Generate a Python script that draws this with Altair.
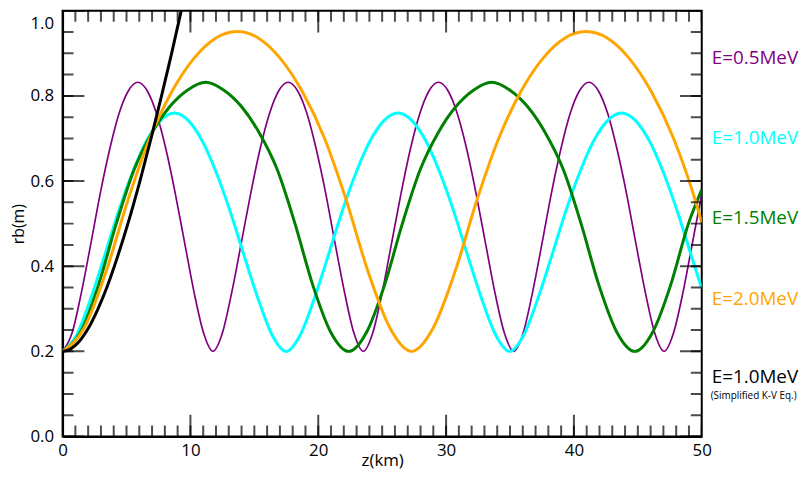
import altair as alt
import pandas as pd

# ---------------- data (z in km, rb in m) ----------------
PURPLE_Z = [0, 0.74, 1.47, 2.21, 2.94, 3.68, 4.41, 5.15, 5.88, 6.62, 7.35, 8.09, 8.82, 9.56, 10.29, 11.03,
            11.76, 12.50, 13.23, 13.97, 14.71, 15.44, 16.18, 16.91, 17.65, 18.38, 19.12, 19.85, 20.59, 21.32, 22.06, 22.79,
            23.53, 24.26, 25.00, 25.73, 26.47, 27.20, 27.94, 28.67, 29.41, 30.15, 30.88, 31.62, 32.35, 33.09, 33.82, 34.56,
            35.29, 36.03, 36.76, 37.50, 38.23, 38.97, 39.70, 40.44, 41.17, 41.91, 42.65, 43.38, 44.12, 44.85, 45.59, 46.32,
            47.06, 47.79, 48.53, 49.26, 50.0]
PURPLE_R = [0.2, 0.243, 0.338, 0.453, 0.570, 0.674, 0.758, 0.812, 0.832, 0.812, 0.758, 0.674, 0.570, 0.453, 0.338, 0.243,
            0.2, 0.243, 0.338, 0.453, 0.570, 0.674, 0.758, 0.812, 0.832, 0.812, 0.758, 0.674, 0.570, 0.453, 0.338, 0.243,
            0.2, 0.243, 0.338, 0.453, 0.570, 0.674, 0.758, 0.812, 0.832, 0.812, 0.758, 0.674, 0.570, 0.453, 0.338, 0.243,
            0.2, 0.243, 0.338, 0.453, 0.570, 0.674, 0.758, 0.812, 0.832, 0.812, 0.758, 0.674, 0.570, 0.453, 0.338, 0.243,
            0.2, 0.243, 0.338, 0.453, 0.570]

CYAN_Z = [0, 1.09, 2.19, 3.28, 4.37, 5.47, 6.56, 7.65, 8.745, 9.84, 10.93, 12.02, 13.12, 14.21, 15.30, 16.40,
          17.49, 18.58, 19.68, 20.77, 21.86, 22.96, 24.05, 25.14, 26.24, 27.33, 28.42, 29.51, 30.61, 31.70, 32.79, 33.89,
          34.98, 36.07, 37.17, 38.26, 39.35, 40.45, 41.54, 42.63, 43.73, 44.82, 45.91, 47.00, 48.10, 49.19, 50.0]
CYAN_R = [0.2, 0.238, 0.323, 0.424, 0.528, 0.620, 0.694, 0.742, 0.760, 0.742, 0.694, 0.620, 0.528, 0.424, 0.323, 0.238,
          0.2, 0.238, 0.323, 0.424, 0.528, 0.620, 0.694, 0.742, 0.760, 0.742, 0.694, 0.620, 0.528, 0.424, 0.323, 0.238,
          0.2, 0.238, 0.323, 0.424, 0.528, 0.620, 0.694, 0.742, 0.760, 0.742, 0.694, 0.620, 0.528, 0.424, 0.348]

GREEN_Z = [0, 1.40, 2.80, 4.20, 5.60, 6.99, 8.39, 9.79, 11.19, 12.59, 13.99, 15.39, 16.79, 18.18, 19.58, 20.98,
           22.38, 23.78, 25.18, 26.58, 27.98, 29.37, 30.77, 32.17, 33.57, 34.97, 36.37, 37.77, 39.17, 40.56, 41.96, 43.36,
           44.76, 46.16, 47.56, 48.96, 50.0]
GREEN_R = [0.2, 0.245, 0.355, 0.500, 0.627, 0.713, 0.775, 0.814, 0.832, 0.814, 0.775, 0.713, 0.627, 0.500, 0.355, 0.245,
           0.2, 0.245, 0.355, 0.500, 0.627, 0.713, 0.775, 0.814, 0.832, 0.814, 0.775, 0.713, 0.627, 0.500, 0.355, 0.245,
           0.2, 0.245, 0.355, 0.500, 0.58]

ORANGE_Z = [0, 1.71, 3.41, 5.12, 6.83, 8.53, 10.24, 11.94, 13.65, 15.36, 17.06, 18.77, 20.48, 22.18, 23.89, 25.59,
            27.30, 29.01, 30.71, 32.42, 34.13, 35.83, 37.54, 39.24, 40.95, 42.66, 44.36, 46.07, 47.78, 49.48, 50.0]
ORANGE_R = [0.2, 0.256, 0.388, 0.556, 0.701, 0.809, 0.887, 0.935, 0.951, 0.935, 0.887, 0.809, 0.701, 0.556, 0.388, 0.256,
            0.2, 0.256, 0.388, 0.556, 0.701, 0.809, 0.887, 0.935, 0.951, 0.935, 0.887, 0.809, 0.701, 0.556, 0.503]

BLACK_Z = [0, 0.5, 1.0, 1.48, 1.93, 2.77, 3.46, 4.05, 5.11, 6.05, 6.92, 7.74, 8.53, 9.28, 10.02]
BLACK_R = [0.2, 0.2035, 0.214, 0.23, 0.25, 0.3, 0.35, 0.4, 0.5, 0.6, 0.7, 0.8, 0.9, 1.0, 1.1]

LEGEND_TEXT = ["E=0.5MeV", "E=1.0MeV", "E=1.5MeV", "E=2.0MeV", "E=1.0MeV"]
LEGEND_COLOR = ["#800080", "#00FFFF", "#008000", "#FFA500", "#000000"]
LEGEND_Y = [0.889, 0.700, 0.514, 0.324, 0.140]
NOTE_TEXT = ["(Simplified K-V Eq.)"]
NOTE_Y = [0.094]

X_MAJOR = [0, 10, 20, 30, 40, 50]
X_MINOR = [0, 1, 2, 3, 4, 5, 6, 7, 8, 9, 10, 11, 12, 13, 14, 15, 16, 17, 18, 19, 20, 21, 22, 23, 24, 25,
           26, 27, 28, 29, 30, 31, 32, 33, 34, 35, 36, 37, 38, 39, 40, 41, 42, 43, 44, 45, 46, 47, 48, 49, 50]
Y_MAJOR = [0.0, 0.2, 0.4, 0.6, 0.8, 1.0]
Y_MINOR = [0.0, 0.05, 0.1, 0.15, 0.2, 0.25, 0.3, 0.35, 0.4, 0.45, 0.5, 0.55, 0.6, 0.65, 0.7, 0.75,
           0.8, 0.85, 0.9, 0.95, 1.0]

# ---------------- chart ----------------
W, H = 644, 429
FONT = "Open Sans"
X_SCALE = alt.Scale(domain=[0, 50], nice=False, zero=False)
Y_SCALE = alt.Scale(domain=[0, 1], nice=False, zero=False)

x_main = alt.Axis(orient="bottom", values=X_MAJOR, ticks=False, tickSize=0, format="d",
                  labelFont=FONT, labelFontSize=17, labelColor="black", labelPadding=6,
                  labelFlush=False, labelOverlap=False,
                  domain=True, domainColor="black", domainWidth=2, grid=False,
                  title="z(km)", titleFont=FONT, titleFontSize=17, titleFontWeight="normal",
                  titleColor="black", titlePadding=-6)
y_main = alt.Axis(orient="left", values=Y_MAJOR, ticks=False, tickSize=0, format=".1f",
                  labelFont=FONT, labelFontSize=17, labelColor="black", labelPadding=9,
                  labelFlush=False, labelOverlap=False,
                  labelOffset={"condition": {"test": "datum.value >= 1", "value": 13}, "value": 0},
                  domain=True, domainColor="black", domainWidth=2, grid=False,
                  title="rb(m)", titleFont=FONT, titleFontSize=16, titleFontWeight="normal",
                  titleColor="black", titlePadding=3)


def line(z, r, color, width, first=False):
    df = pd.DataFrame({"z": z, "r": r})
    return alt.Chart(df).mark_line(color=color, strokeWidth=width, interpolate="monotone",
                                   clip=True).encode(
        x=alt.X("z:Q", scale=X_SCALE, axis=x_main if first else None),
        y=alt.Y("r:Q", scale=Y_SCALE, axis=y_main if first else None),
    )


def x_ticks(values, edge, length):
    # inward ticks on the bottom (edge=0) or top (edge=1) frame; the outer half is clipped away
    df = pd.DataFrame({"t": values})
    return alt.Chart(df).mark_tick(orient="vertical", size=2 * length, thickness=2,
                                   color="black", clip=True).encode(
        x=alt.X("t:Q", scale=X_SCALE, axis=None),
        y=alt.YDatum(edge, type="quantitative", scale=Y_SCALE, axis=None),
    )


def y_ticks(values, edge, length):
    # inward ticks on the left (edge=0) or right (edge=50) frame
    df = pd.DataFrame({"t": values})
    return alt.Chart(df).mark_tick(orient="horizontal", size=2 * length, thickness=2,
                                   color="black", clip=True).encode(
        y=alt.Y("t:Q", scale=Y_SCALE, axis=None),
        x=alt.XDatum(edge, type="quantitative", scale=X_SCALE, axis=None),
    )


purple = line(PURPLE_Z, PURPLE_R, "#800080", 1.7, first=True)
cyan = line(CYAN_Z, CYAN_R, "#00FFFF", 3)
green = line(GREEN_Z, GREEN_R, "#008000", 3)
orange = line(ORANGE_Z, ORANGE_R, "#FFA500", 3)
black = line(BLACK_Z, BLACK_R, "#000000", 3)

tick_layers = [
    x_ticks(X_MINOR, 0, 11), x_ticks(X_MAJOR, 0, 22),
    x_ticks(X_MINOR, 1, 11), x_ticks(X_MAJOR, 1, 22),
    y_ticks(Y_MINOR, 0, 11), y_ticks(Y_MAJOR, 0, 22),
    y_ticks(Y_MINOR, 50, 11), y_ticks(Y_MAJOR, 50, 22),
]

legend_df = pd.DataFrame({"label": LEGEND_TEXT, "color": LEGEND_COLOR, "pos": LEGEND_Y})
legend = alt.Chart(legend_df).mark_text(align="left", baseline="middle", font=FONT, fontSize=19,
                                        dx=10, clip=False).encode(
    x=alt.XDatum(50, type="quantitative", scale=X_SCALE, axis=None),
    y=alt.Y("pos:Q", scale=Y_SCALE, axis=None),
    text="label:N",
    color=alt.Color("color:N", scale=None),
)

note_df = pd.DataFrame({"label": NOTE_TEXT, "pos": NOTE_Y})
note = alt.Chart(note_df).mark_text(align="left", baseline="middle", font=FONT, fontSize=10,
                                    dx=9, color="black", clip=False).encode(
    x=alt.XDatum(50, type="quantitative", scale=X_SCALE, axis=None),
    y=alt.Y("pos:Q", scale=Y_SCALE, axis=None),
    text="label:N",
)

chart = alt.layer(purple, cyan, green, orange, black, *tick_layers, legend, note).resolve_axis(
    x="independent", y="independent"
).properties(
    width=W, height=H,
    padding={"left": 55, "top": 1, "right": 100, "bottom": 36},
    autosize=alt.AutoSizeParams(type="none"),
    background="white",
).configure_view(stroke="black", strokeWidth=2)

chart.save("out.html", embed_options={"renderer": "svg", "actions": False})
